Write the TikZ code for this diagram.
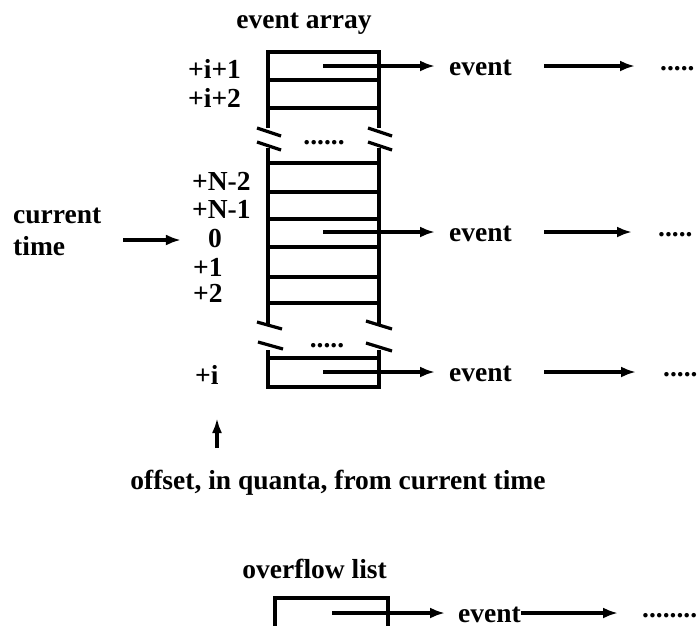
\documentclass[tikz,border=0pt]{standalone}
\usepackage{fontspec}
\setmainfont{Liberation Serif}
\usetikzlibrary{arrows.meta}
\begin{document}
\begin{tikzpicture}[x=1pt,y=-1pt,
  every node/.style={font=\fontsize{27.5}{33}\selectfont\bfseries, inner sep=0pt},
  wall/.style={line width=3.2pt, line join=miter},
  arr/.style={line width=3.2pt, -{Latex[length=15pt,width=11pt]}},
  evt/.style={anchor=west, text height=18pt, text depth=0pt},
  dotsn/.style={anchor=west, text height=3pt, text depth=0pt, yshift=-3pt},
  gapdots/.style={text height=3pt, text depth=0pt, yshift=-3pt},
  lab/.style={anchor=base west, text height=14pt, text depth=0pt},
  txt/.style={anchor=base}
]
\useasboundingbox (0,0) rectangle (698,625);

% titles
\node[txt] (title) at (304,28) {event array};
\node[anchor=base east] (ovt) at (387,578) {overflow list};

% array upper part
\draw[wall] (268,128) -- (268,52) -- (379,52) -- (379,128);
\draw[wall] (268,80) -- (379,80);
\draw[wall] (268,108) -- (379,108);
% break 1
\draw[wall] (257,128) -- (281,136);
\draw[wall] (368,128) -- (392,136);
\draw[wall] (257,142) -- (281,150);
\draw[wall] (368,142) -- (392,150);
\node[gapdots] (g1) at (324,140) {......};
% middle part
\draw[wall] (268,148) -- (268,324);
\draw[wall] (379,148) -- (379,324);
\foreach \yy in {163,192,219,247,277,303}
  \draw[wall] (268,\yy) -- (379,\yy);
% break 2
\draw[wall] (257,322) -- (282,329);
\draw[wall] (366,321) -- (392,329);
\draw[wall] (258,342) -- (283,349);
\draw[wall] (366,343) -- (392,351);
\node[gapdots] (g2) at (327,343) {.....};
% last cell
\draw[wall] (268,350) -- (268,387) -- (379,387) -- (379,350);
\draw[wall] (268,358) -- (379,358);

% labels
\node[lab] (l1) at (188,78) {+i+1};
\node[lab] (l2) at (188,107) {+i+2};
\node[lab] (lN2) at (192,190) {+N-2};
\node[lab] (lN1) at (192,218) {+N-1};
\node[anchor=base, text height=14pt, text depth=0pt] (l0) at (215,247) {0};
\node[lab] (lp1) at (193,276) {+1};
\node[lab] (lp2) at (193,302) {+2};
\node[lab] (li) at (195,384) {+i};

% current time
\node[anchor=base west] (cur) at (13,223) {current};
\node[anchor=base west] (tim) at (13,255) {time};
\coordinate (ca) at (123,240);
\draw[arr, shorten >=27pt] (ca) -- (ca -| l0.west);

% offset
\coordinate (ua) at (217,448);
\coordinate (ub) at (217,418);
\draw[line width=3.2pt, -{Latex[length=15pt,width=10pt]}] (ua) -- (ub);
\node[txt] (off) at (338,489) {offset, in quanta, from current time};

% row 1
\coordinate (s1) at (323,66);
\node[evt] (e1) at (449,66) {event};
\node[dotsn] (d1) at (660,66) {.....};
\draw[arr, shorten >=14pt] (s1) -- (e1.west);
\draw[arr, shorten <=32pt, shorten >=25pt] (e1.east) -- (e1.east -| d1.west);

% row 2
\coordinate (s2) at (323,232);
\node[evt] (e2) at (449,232) {event};
\node[dotsn] (d2) at (658,232) {.....};
\draw[arr, shorten >=14pt] (s2) -- (e2.west);
\draw[arr, shorten <=32pt, shorten >=26pt] (e2.east) -- (e2.east -| d2.west);

% row 3
\coordinate (s3) at (323,372);
\node[evt] (e3) at (449,372) {event};
\node[dotsn] (d3) at (663,372) {.....};
\draw[arr, shorten >=14pt] (s3) -- (e3.west);
\draw[arr, shorten <=32pt, shorten >=27pt] (e3.east) -- (e3.east -| d3.west);

% overflow
\draw[wall] (275,640) -- (275,598) -- (388,598) -- (388,640);
\coordinate (s4) at (332,613);
\node[evt] (e4) at (458,613) {event};
\node[dotsn] (d4) at (642,613) {........};
\draw[arr, shorten >=13pt] (s4) -- (e4.west);
\draw[arr, shorten >=24pt] (e4.east) -- (e4.east -| d4.west);
\end{tikzpicture}
\end{document}
